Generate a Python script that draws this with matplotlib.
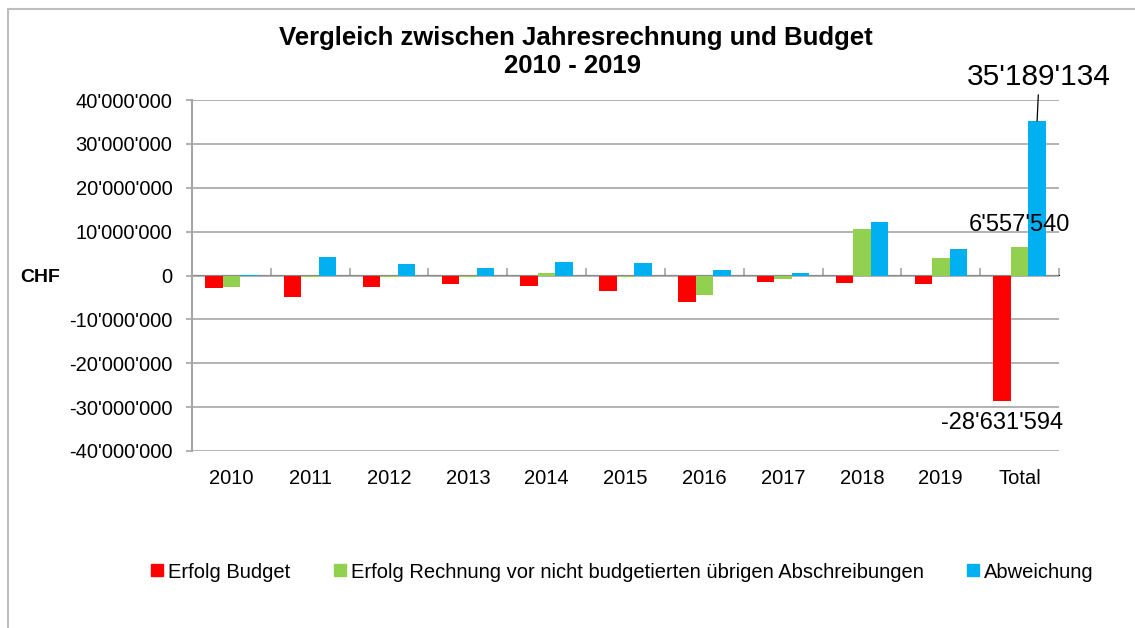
import matplotlib
matplotlib.use("Agg")
import matplotlib.pyplot as plt
import numpy as np
from matplotlib.ticker import FuncFormatter
from matplotlib.lines import Line2D
from matplotlib.patches import Rectangle

plt.rcParams['font.family'] = ['Liberation Sans', 'DejaVu Sans']

categories = ["2010", "2011", "2012", "2013", "2014", "2015", "2016", "2017", "2018", "2019", "Total"]
erfolg_budget = [-2.8e6, -4.8e6, -2.7e6, -2.0e6, -2.5e6, -3.5e6, -6.0e6, -1.5e6, -1.7e6, -2.0e6, -28631594]
erfolg_rechnung = [-2.6e6, -0.3e6, -0.3e6, -0.3e6, 0.5e6, -0.3e6, -4.5e6, -0.9e6, 10.6e6, 4.1e6, 6557540]
abweichung = [0.2e6, 4.3e6, 2.6e6, 1.6e6, 3.1e6, 2.9e6, 1.3e6, 0.5e6, 12.2e6, 6.1e6, 35189134]
series_names = ["Erfolg Budget",
                "Erfolg Rechnung vor nicht budgetierten übrigen Abschreibungen",
                "Abweichung"]
colors = ["#FF0000", "#92D050", "#00B0F0"]
yticks = np.arange(-40e6, 40e6 + 1, 10e6)

def fmt(v, pos=None):
    return f"{v:,.0f}".replace(",", "'")

fig = plt.figure(figsize=(11.35, 6.28), dpi=100)
ax = fig.add_axes([192/1135, 1 - 451/628, (1059 - 192)/1135, (451 - 100)/628])

x = np.arange(len(categories))
w = 0.222
series = [erfolg_budget, erfolg_rechnung, abweichung]
for i, (vals, c) in enumerate(zip(series, colors)):
    ax.bar(x + (i - 1) * w, vals, width=w, color=c, zorder=3)

ax.set_xlim(-0.5, len(categories) - 0.5)
ax.set_ylim(-40e6, 40e6)
ax.set_yticks(yticks)
ax.yaxis.set_major_formatter(FuncFormatter(fmt))
grid_c = "#A6A6A6"
ax.grid(axis='y', color=grid_c, linewidth=1.2, zorder=0)
for s in ['top', 'right', 'bottom']:
    ax.spines[s].set_visible(False)
ax.spines['left'].set_color(grid_c)
ax.spines['left'].set_linewidth(1.5)
ax.tick_params(axis='y', length=4, width=1.2, color=grid_c, pad=10, labelsize=14.5, labelcolor='#000000')
ax.set_xticks(x)
ax.set_xticklabels(categories)
ax.tick_params(axis='x', length=0, pad=13, labelsize=14.5)

# zero axis with boundary ticks
sec = ax.secondary_xaxis(0.5)
sec.set_xticks(np.arange(-0.5, len(categories), 1.0))
sec.set_xticklabels([])
sec.tick_params(axis='x', length=5, width=1.2, color=grid_c, direction='out')
sec.spines['bottom'].set_color(grid_c)
sec.spines['bottom'].set_linewidth(1.5)

# data labels on totals
t = len(categories) - 1
ax.annotate(fmt(abweichung[t]), xy=(t + w, abweichung[t]), xytext=(1.5, 32),
            textcoords='offset points', ha='center', va='center', fontsize=21.5,
            arrowprops=dict(arrowstyle='-', color='black', lw=0.9, shrinkA=1, shrinkB=0))
ax.annotate(fmt(erfolg_rechnung[t]), xy=(t, erfolg_rechnung[t]), xytext=(0, 16),
            textcoords='offset points', ha='center', va='center', fontsize=17, zorder=5)
ax.annotate(fmt(erfolg_budget[t]), xy=(t - w, erfolg_budget[t]), xytext=(0, -16),
            textcoords='offset points', ha='center', va='center', fontsize=17)

fig.text(40/1135, 1 - 278/628, "CHF", fontsize=14, fontweight='bold', ha='center', va='center')
fig.text(576/1135, 1 - 45/628, "Vergleich zwischen Jahresrechnung und Budget",
         fontsize=18.5, fontweight='bold', ha='center', va='baseline')
fig.text(572/1135, 1 - 73/628, "2010 - 2019",
         fontsize=18.5, fontweight='bold', ha='center', va='baseline')

handles = [Line2D([], [], marker='s', linestyle='none', color=c, markersize=8) for c in colors]
fig.legend(handles, series_names, loc='center', bbox_to_anchor=(623/1135, 1 - 572/628),
           ncol=3, frameon=False, fontsize=14.5, handlelength=0.5, handletextpad=0.3,
           columnspacing=2.2)

fig.patches.append(Rectangle((8/1135, -0.1), 1.2, 1 - 9/628 + 0.1, transform=fig.transFigure,
                             fill=False, edgecolor='#BFBFBF', linewidth=1.5))

fig.savefig("out.png", dpi=100)
